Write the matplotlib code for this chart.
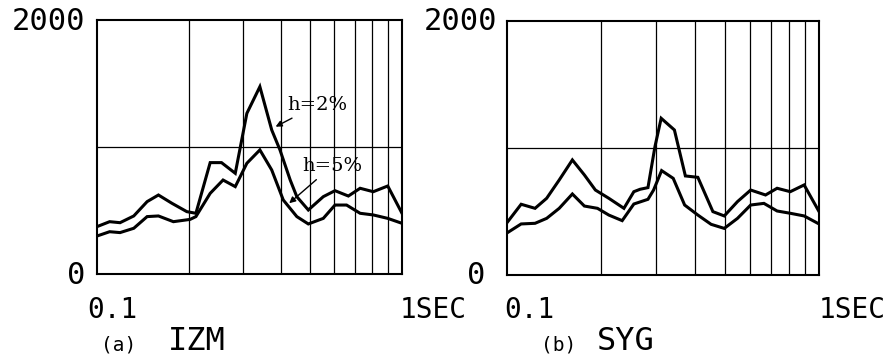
import numpy as np
import matplotlib.pyplot as plt

# response spectra (period in sec, value)
T_izm_2 = [0.100, 0.110, 0.119, 0.132, 0.146, 0.159, 0.176, 0.197, 0.211, 0.235, 0.256,
           0.284, 0.310, 0.342, 0.374, 0.398, 0.430, 0.452, 0.493, 0.552, 0.603, 0.667,
           0.729, 0.805, 0.898, 1.000]
v_izm_2 = [373, 412, 404, 457, 570, 622, 557, 491, 478, 877, 877,
           793, 1265, 1475, 1134, 977, 740, 609, 504, 609, 656, 614,
           675, 648, 693, 478]

T_izm_5 = [0.100, 0.110, 0.119, 0.132, 0.146, 0.159, 0.178, 0.202, 0.211, 0.235, 0.259,
           0.284, 0.310, 0.342, 0.374, 0.408, 0.452, 0.493, 0.552, 0.603, 0.658, 0.729,
           0.805, 0.898, 1.000]
v_izm_5 = [299, 333, 326, 360, 452, 457, 412, 430, 452, 635, 740,
           688, 872, 977, 819, 583, 452, 394, 438, 543, 543, 478,
           465, 438, 399]

T_syg_2 = [0.100, 0.111, 0.123, 0.134, 0.147, 0.162, 0.177, 0.192, 0.212, 0.237, 0.255,
           0.267, 0.283, 0.298, 0.312, 0.344, 0.373, 0.409, 0.457, 0.497, 0.548, 0.604,
           0.674, 0.734, 0.809, 0.896, 1.000]
v_syg_2 = [412, 557, 525, 604, 748, 906, 788, 669, 604, 525, 656,
           675, 688, 1011, 1234, 1142, 780, 769, 499, 465, 578, 669,
           630, 683, 656, 709, 500]

T_syg_5 = [0.100, 0.111, 0.123, 0.134, 0.147, 0.162, 0.177, 0.195, 0.212, 0.234, 0.255,
           0.283, 0.295, 0.313, 0.341, 0.371, 0.409, 0.451, 0.497, 0.548, 0.604, 0.666,
           0.734, 0.809, 0.896, 1.000]
v_syg_5 = [331, 402, 407, 446, 525, 638, 543, 525, 472, 428, 559,
           596, 669, 822, 761, 551, 472, 399, 367, 446, 551, 564,
           504, 486, 465, 402]

grid_x = [0.2, 0.3, 0.4, 0.5, 0.6, 0.7, 0.8, 0.9]
grid_y = [1000]
y_labels = ['0', '2000']
x_labels = ['0.1', '1SEC']

W, H = 893, 360
fig = plt.figure(figsize=(W / 100, H / 100), dpi=100)

def px(x, y):
    return x / W, 1 - y / H

def panel(rect, curves):
    ax = fig.add_axes(rect)
    ax.set_xscale('log')
    ax.set_xlim(0.1, 1.0)
    ax.set_ylim(0, 2000)
    for x in grid_x:
        ax.axvline(x, color='black', lw=0.9)
    for y in grid_y:
        ax.axhline(y, color='black', lw=0.9)
    for T, v in curves:
        ax.plot(T, v, color='black', lw=2.2, solid_joinstyle='miter')
    ax.set_xticks([])
    ax.set_yticks([])
    ax.minorticks_off()
    for s in ax.spines.values():
        s.set_linewidth(1.5)
    return ax

ax_a = panel([97 / W, 1 - 274 / H, 305 / W, 254 / H],
             [(T_izm_2, v_izm_2), (T_izm_5, v_izm_5)])
ax_b = panel([507 / W, 1 - 275 / H, 312 / W, 254 / H],
             [(T_syg_2, v_syg_2), (T_syg_5, v_syg_5)])

ylab = dict(family='DejaVu Sans Mono', fontsize=22, color='black')
xlab = dict(family='DejaVu Sans Mono', fontsize=20, color='black')
tag = dict(family='DejaVu Sans Mono', fontsize=14, color='black')
name = dict(family='DejaVu Sans Mono', fontsize=23, color='black')

# axis labels panel (a)
fig.text(*px(85, 22), y_labels[1], ha='right', va='center', **ylab)
fig.text(*px(85, 275), y_labels[0], ha='right', va='center', **ylab)
fig.text(*px(87, 310), x_labels[0], ha='left', va='center', **xlab)
fig.text(*px(400, 310), x_labels[1], ha='left', va='center', **xlab)
fig.text(*px(101, 345), '(a)', ha='left', va='center', **tag)
fig.text(*px(168, 341), 'IZM', ha='left', va='center', **name)

# axis labels panel (b)
fig.text(*px(497, 22), y_labels[1], ha='right', va='center', **ylab)
fig.text(*px(485, 275), y_labels[0], ha='right', va='center', **ylab)
fig.text(*px(504, 310), x_labels[0], ha='left', va='center', **xlab)
fig.text(*px(819, 310), x_labels[1], ha='left', va='center', **xlab)
fig.text(*px(541, 345), '(b)', ha='left', va='center', **tag)
fig.text(*px(597, 341), 'SYG', ha='left', va='center', **name)

# damping annotations
arrow = dict(arrowstyle='-|>', color='black', lw=1.0, mutation_scale=9)
ax_a.annotate('h=2%', xy=(0.378, 1150), xytext=(0.42, 1330), ha='left', va='center',
              arrowprops=arrow, family='DejaVu Serif', fontsize=14)
ax_a.annotate('h=5%', xy=(0.42, 543), xytext=(0.47, 850), ha='left', va='center',
              arrowprops=arrow, family='DejaVu Serif', fontsize=14)

fig.savefig('out.png', dpi=100)
